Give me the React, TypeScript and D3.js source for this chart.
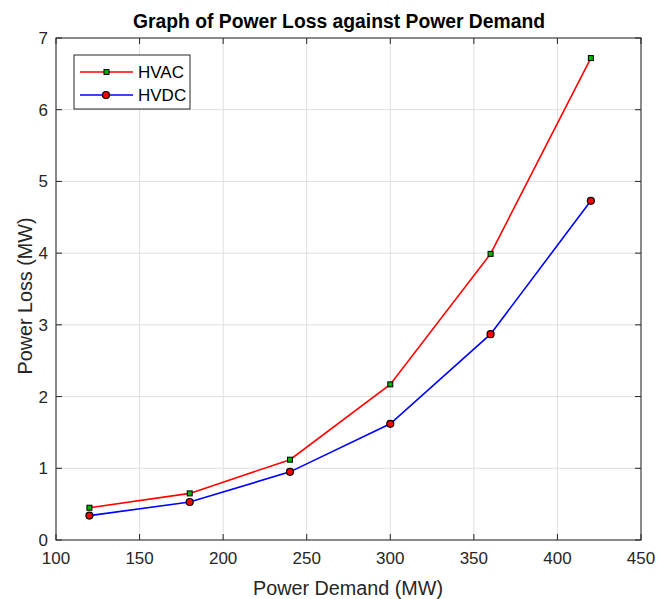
import React from 'react'
import * as d3 from 'd3'

const demand = [120, 180, 240, 300, 360, 420]
const hvac = [0.45, 0.65, 1.12, 2.17, 3.99, 6.72]
const hvdc = [0.34, 0.53, 0.95, 1.62, 2.87, 4.73]
const xTicks = [100, 150, 200, 250, 300, 350, 400, 450]
const yTicks = [0, 1, 2, 3, 4, 5, 6, 7]

const W = 658
const H = 599
const margin = { left: 56, right: 17, top: 38, bottom: 59 }
const axisColor = '#262626'
const font = 'Liberation Sans, Arial, Helvetica, sans-serif'

const App = () => {
    const x = d3.scaleLinear().domain([100, 450]).range([margin.left, W - margin.right])
    const y = d3.scaleLinear().domain([0, 7]).range([H - margin.bottom, margin.top])
    const line = d3.line<number>().x((d, i) => x(demand[i])).y(d => y(d))

    const x0 = x(100), x1 = x(450), y0 = y(0), y1 = y(7)

    return (
        <svg width={W} height={H} style={{ position: 'absolute', left: 0, top: 0 }}>
            <rect width={W} height={H} fill="#fff" />
            {/* grid */}
            {xTicks.map(t => (
                <line key={`gx${t}`} x1={x(t)} x2={x(t)} y1={y0} y2={y1} stroke="#dfdfdf" strokeWidth={1} />
            ))}
            {yTicks.map(t => (
                <line key={`gy${t}`} x1={x0} x2={x1} y1={y(t)} y2={y(t)} stroke="#dfdfdf" strokeWidth={1} />
            ))}
            {/* ticks inside on all sides */}
            {xTicks.map(t => (
                <g key={`tx${t}`} stroke={axisColor}>
                    <line x1={x(t)} x2={x(t)} y1={y0} y2={y0 - 6} />
                    <line x1={x(t)} x2={x(t)} y1={y1} y2={y1 + 6} />
                </g>
            ))}
            {yTicks.map(t => (
                <g key={`ty${t}`} stroke={axisColor}>
                    <line x1={x0} x2={x0 + 6} y1={y(t)} y2={y(t)} />
                    <line x1={x1} x2={x1 - 6} y1={y(t)} y2={y(t)} />
                </g>
            ))}
            <rect x={x0} y={y1} width={x1 - x0} height={y0 - y1} fill="none" stroke={axisColor} strokeWidth={1} />
            {/* tick labels */}
            {xTicks.map(t => (
                <text key={`lx${t}`} x={x(t)} y={y0 + 24} textAnchor="middle" fontFamily={font} fontSize={17} fill={axisColor}>{t}</text>
            ))}
            {yTicks.map(t => (
                <text key={`ly${t}`} x={x0 - 8} y={y(t) + 6} textAnchor="end" fontFamily={font} fontSize={17} fill={axisColor}>{t}</text>
            ))}
            {/* series */}
            <path d={line(hvac) ?? ''} fill="none" stroke="#ff0000" strokeWidth={1.6} />
            <path d={line(hvdc) ?? ''} fill="none" stroke="#0000ff" strokeWidth={1.6} />
            {hvac.map((v, i) => (
                <rect key={`ma${i}`} x={x(demand[i]) - 2.5} y={y(v) - 2.5} width={5} height={5} fill="#00b000" stroke="#000" strokeWidth={1} />
            ))}
            {hvdc.map((v, i) => (
                <circle key={`md${i}`} cx={x(demand[i])} cy={y(v)} r={3.5} fill="#ff0000" stroke="#000" strokeWidth={1.2} />
            ))}
            {/* legend */}
            <g>
                <rect x={74} y={55} width={116} height={54} fill="#fff" stroke={axisColor} strokeWidth={1} />
                <line x1={80} x2={133} y1={72} y2={72} stroke="#ff0000" strokeWidth={1.6} />
                <rect x={104} y={69.5} width={5} height={5} fill="#00b000" stroke="#000" strokeWidth={1} />
                <text x={138} y={78} fontFamily={font} fontSize={17} fill="#000">HVAC</text>
                <line x1={80} x2={133} y1={95} y2={95} stroke="#0000ff" strokeWidth={1.6} />
                <circle cx={106} cy={95} r={3.5} fill="#ff0000" stroke="#000" strokeWidth={1.2} />
                <text x={138} y={101} fontFamily={font} fontSize={17} fill="#000">HVDC</text>
            </g>
            {/* titles */}
            <text x={339} y={28} textAnchor="middle" fontFamily={font} fontSize={20} fontWeight="bold" fill="#000" textLength={412} lengthAdjust="spacingAndGlyphs">Graph of Power Loss against Power Demand</text>
            <text x={348} y={595} textAnchor="middle" fontFamily={font} fontSize={20} fill={axisColor} textLength={190} lengthAdjust="spacingAndGlyphs">Power Demand (MW)</text>
            <text transform={`translate(32, 296) rotate(-90)`} textAnchor="middle" fontFamily={font} fontSize={20} fill={axisColor} textLength={157} lengthAdjust="spacingAndGlyphs">Power Loss (MW)</text>
        </svg>
    )
}

export default App
